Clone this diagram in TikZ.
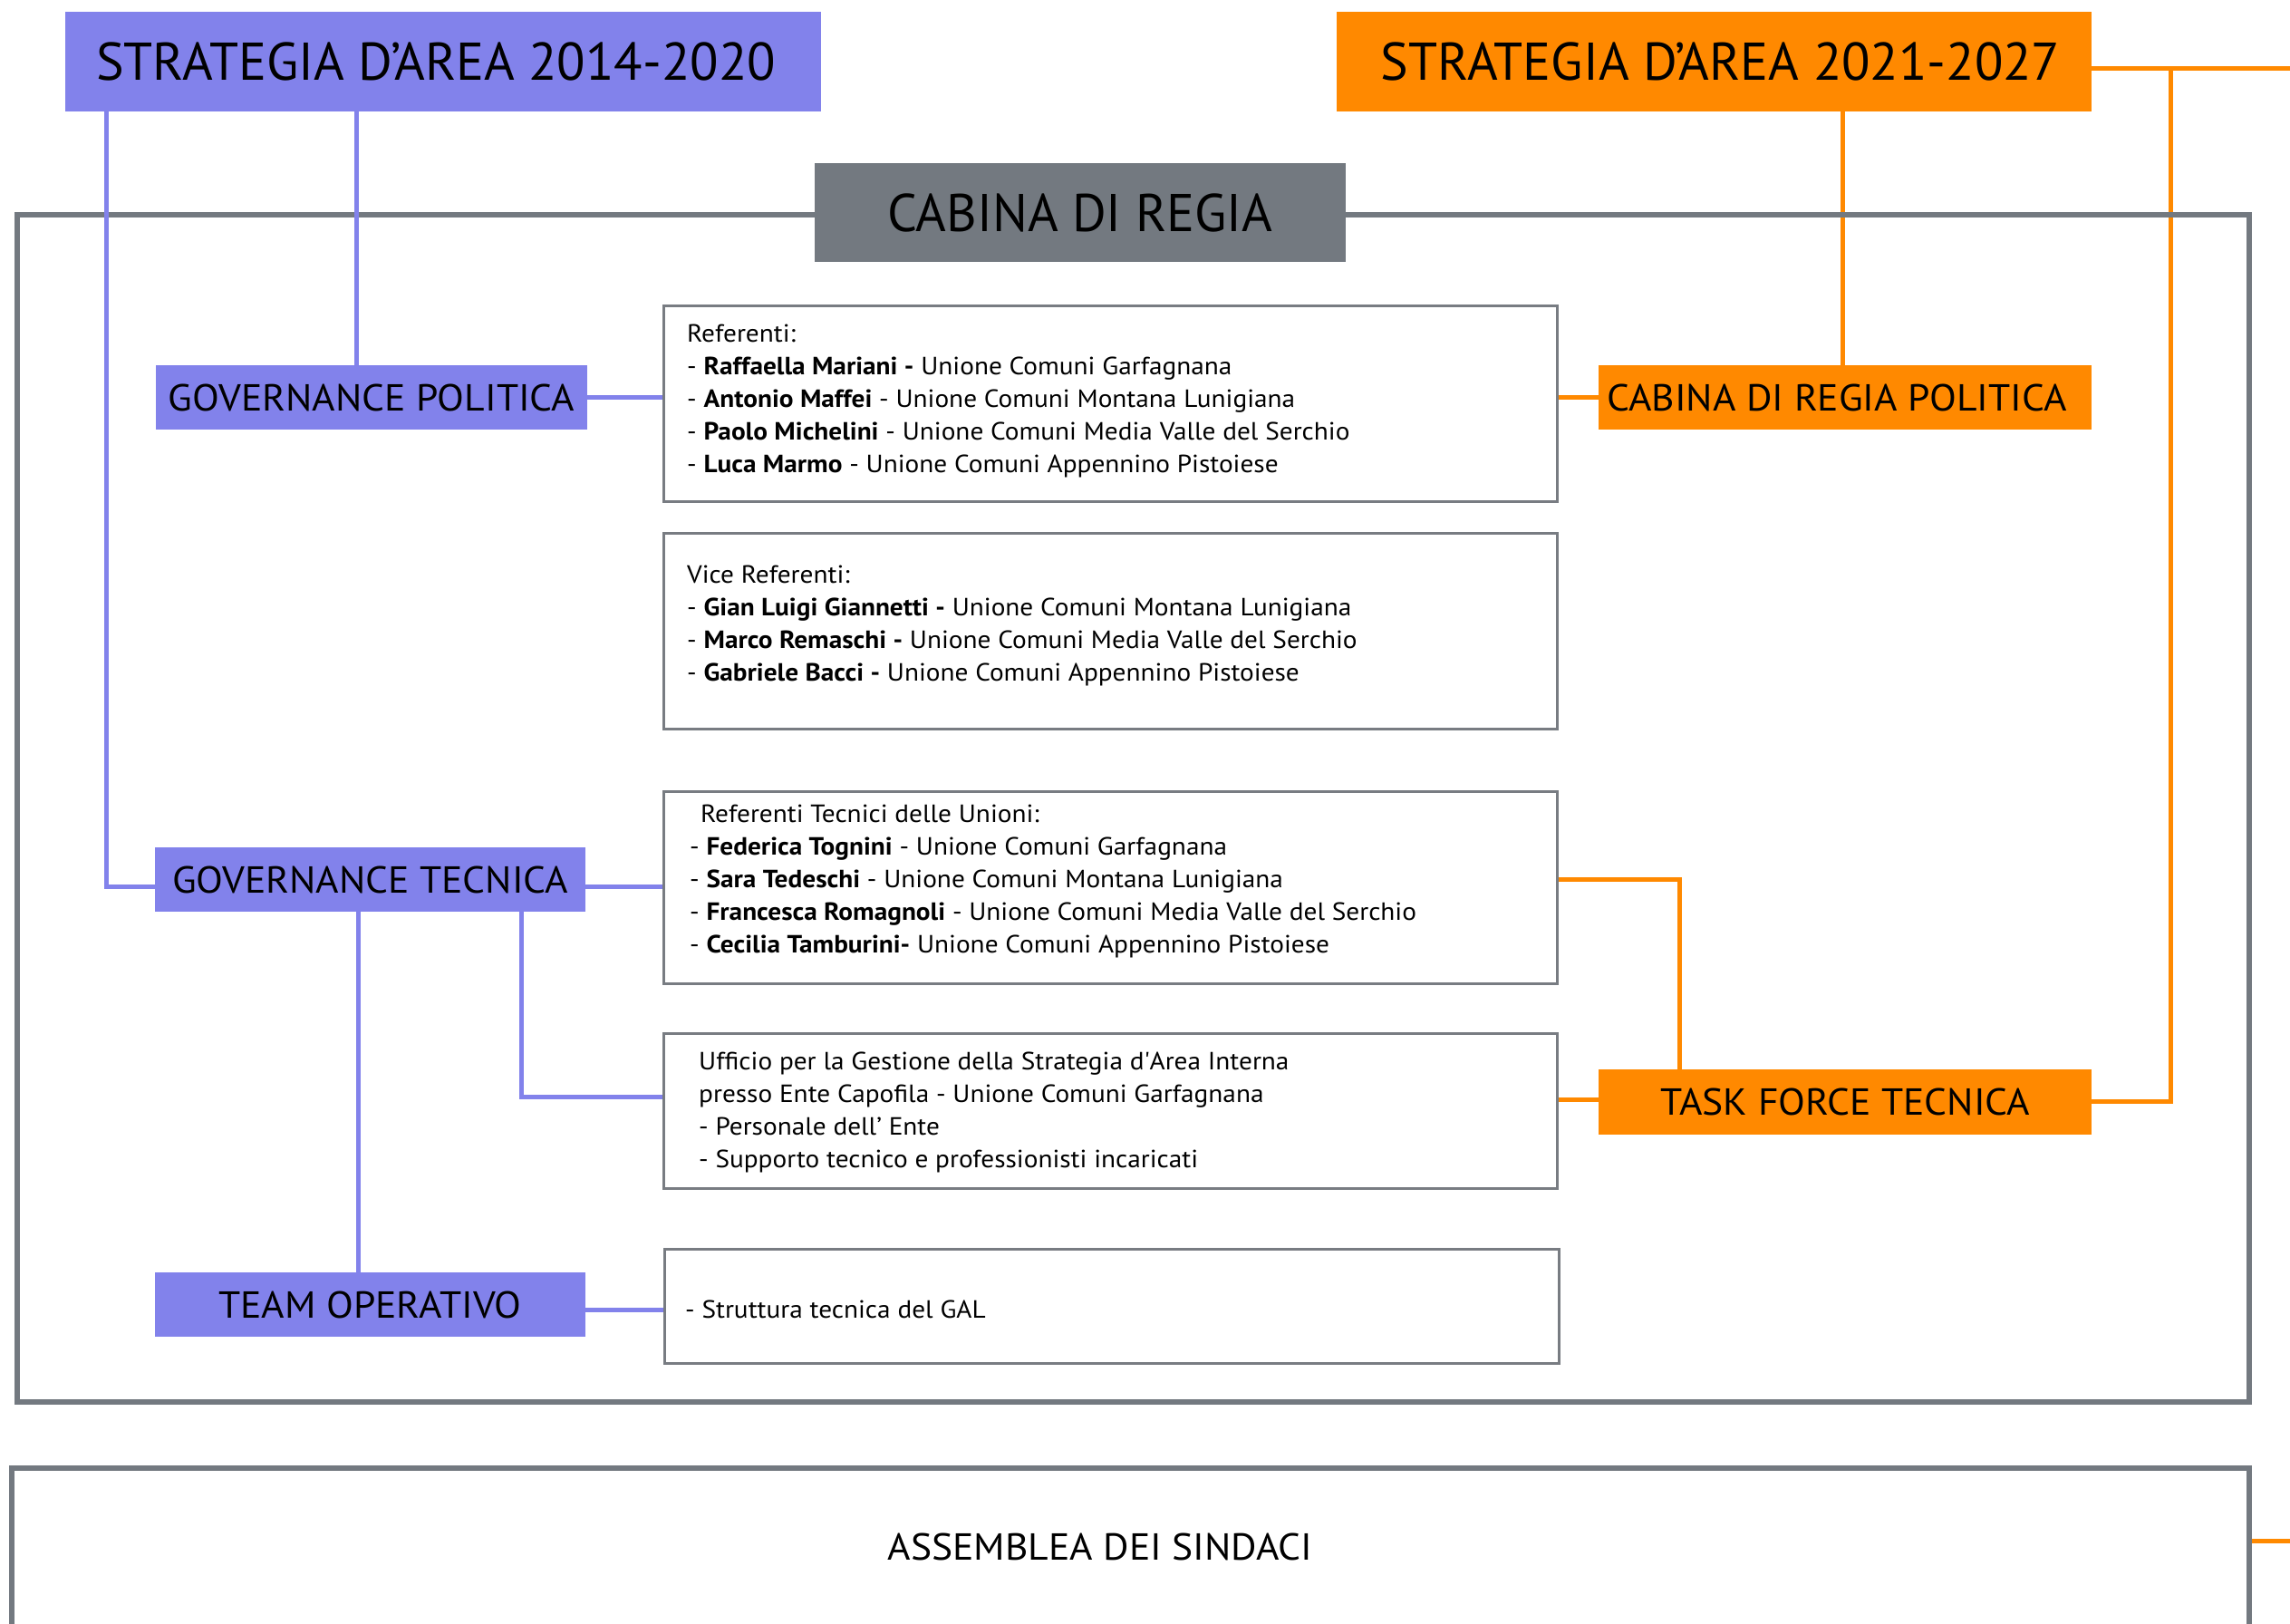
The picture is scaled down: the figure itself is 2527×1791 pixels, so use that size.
\documentclass[tikz,border=0pt]{standalone}
\usepackage{fontspec}
\setmainfont{PT Sans}
\newfontfamily\ttlfont[FakeStretch=0.985]{PT Sans}
\newfontfamily\lblfont[FakeStretch=1.05]{PT Sans}
\newfontfamily\bodyfont[FakeStretch=1.065]{PT Sans}
\definecolor{blueC}{RGB}{130,130,235}
\definecolor{orC}{RGB}{255,137,0}
\definecolor{grayC}{RGB}{115,121,128}
\definecolor{boxG}{RGB}{120,124,130}
\begin{document}
\begin{tikzpicture}[x=1pt,y=-1pt,
  lbl/.style={inner sep=0, font=\lblfont\fontsize{41.5}{50}\selectfont},
  ttl/.style={inner sep=0, font=\ttlfont\fontsize{58.6}{70}\selectfont},
  bluebox/.style={lbl, fill=blueC},
  orbox/.style={lbl, fill=orC},
  content/.style={draw=boxG, line width=3, fill=white, inner sep=0},
  txt/.style={anchor=north west, inner sep=0, align=left, font=\bodyfont\fontsize{27.5}{36}\selectfont},
  bl/.style={draw=blueC, line width=5},
  ol/.style={draw=orC, line width=5},
  frm/.style={draw=grayC, line width=5.5, inner sep=0}]
\useasboundingbox (0,0) rectangle (2527,1791);
\fill[white] (0,0) rectangle (2527,1791);

% named coordinates for connector bends
\coordinate (xgp) at (393,0);
\coordinate (b1) at (117,978);
\coordinate (xto) at (395,0);
\coordinate (b2) at (575,1210);
\coordinate (b3) at (690,1445);
\coordinate (o1) at (2033,0);
\coordinate (o2) at (1853,970.7);
\coordinate (o3) at (1740,1213);
\coordinate (o4) at (2395,75);
\coordinate (o5) at (2527,75);
\coordinate (o6) at (2395,1215);
\coordinate (o8) at (2527,1700);

% top boxes
\node[ttl, fill=blueC, minimum width=834, minimum height=110] (s14) at (489,67.75) {STRATEGIA D’AREA 2014-2020\rule{16pt}{0pt}};
\node[ttl, fill=orC, minimum width=833, minimum height=110] (s21) at (1891.5,67.75) {\hspace{14pt}STRATEGIA D’AREA 2021-2027};

% left labels
\node[bluebox, minimum width=476, minimum height=71] (gp) at (410,438.5) {GOVERNANCE POLITICA};
\node[bluebox, minimum width=475, minimum height=71] (gt) at (408.5,970.5) {GOVERNANCE TECNICA};
\node[bluebox, minimum width=475, minimum height=71] (to) at (408.5,1439.5) {TEAM OPERATIVO};

% right labels
\node[orbox, minimum width=544, minimum height=71] (cdrp) at (2036,438.5) {CABINA DI REGIA POLITICA\rule{18pt}{0pt}};
\node[orbox, minimum width=544, minimum height=72] (tft) at (2036,1216) {TASK FORCE TECNICA};

% content boxes
\node[content, minimum width=986, minimum height=216] (ref) at (1225,445) {};
\node[content, minimum width=986, minimum height=216] (vice) at (1225,696) {};
\node[content, minimum width=986, minimum height=212] (rt) at (1225,979) {};
\node[content, minimum width=986, minimum height=171] (uff) at (1225,1225.5) {};
\node[content, minimum width=987, minimum height=126] (gal) at (1226.5,1441) {};

% orange connectors
\draw[ol] (s21.south -| o1) -- (cdrp.north -| o1);
\draw[ol] (ref.east |- cdrp.west) -- (cdrp.west);
\draw[ol] (rt.east |- o2) -- (o2) -- (tft.north -| o2);
\draw[ol] (uff.east |- o3) -- (tft.west |- o3);
\draw[ol] (s21.east |- o4) -- (o5);
\draw[ol] (o4) -- (o6) -- (tft.east |- o6);

% frames
\node[frm, minimum width=2463, minimum height=1310] (frame) at (1250.5,892) {};
\node[frm, minimum width=2469, minimum height=200] (asm) at (1247.5,1720) {};
\node[lbl] (asmt) at (1214,1707) {ASSEMBLEA DEI SINDACI};
\draw[ol] (asm.east |- o8) -- (o8);

\node[ttl, fill=grayC, minimum width=586, minimum height=109] (cdr) at (1192,234.5) {CABINA DI REGIA};

% blue connectors
\draw[bl] (s14.south -| xgp) -- (gp.north -| xgp);
\draw[bl] (s14.south -| b1) -- (b1) -- (gt.west |- b1);
\draw[bl] (gp.east) -- (ref.west |- gp.east);
\draw[bl] (gt.east |- b1) -- (rt.west |- b1);
\draw[bl] (gt.south -| xto) -- (to.north -| xto);
\draw[bl] (gt.south -| b2) -- (b2) -- (uff.west |- b2);
\draw[bl] (to.east |- b3) -- (gal.west |- b3);

% texts
\node[txt] (reft) at (758,351.8) {\strut Referenti:\\
\strut - \textbf{Raffaella Mariani -} Unione Comuni Garfagnana\\
\strut - \textbf{Antonio Maffei} - Unione Comuni Montana Lunigiana\\
\strut - \textbf{Paolo Michelini} - Unione Comuni Media Valle del Serchio\\
\strut - \textbf{Luca Marmo} - Unione Comuni Appennino Pistoiese};
\node[txt] (vicet) at (758,617.8) {\strut Vice Referenti:\\
\strut - \textbf{Gian Luigi Giannetti -} Unione Comuni Montana Lunigiana\\
\strut - \textbf{Marco Remaschi -} Unione Comuni Media Valle del Serchio\\
\strut - \textbf{Gabriele Bacci -} Unione Comuni Appennino Pistoiese};
\node[txt] (rtt) at (761,881.8) {\strut\hspace{12pt}Referenti Tecnici delle Unioni:\\
\strut - \textbf{Federica Tognini} - Unione Comuni Garfagnana\\
\strut - \textbf{Sara Tedeschi} - Unione Comuni Montana Lunigiana\\
\strut - \textbf{Francesca Romagnoli} - Unione Comuni Media Valle del Serchio\\
\strut - \textbf{Cecilia Tamburini-} Unione Comuni Appennino Pistoiese};
\node[txt] (uft) at (771,1154.8) {\strut Ufficio per la Gestione della Strategia d\textquotesingle Area Interna\\
\strut presso Ente Capofila - Unione Comuni Garfagnana\\
\strut - Personale dell’ Ente\\
\strut - Supporto tecnico e professionisti incaricati};
\node[txt] (galt) at (756,1428.8) {\strut - Struttura tecnica del GAL};
\end{tikzpicture}
\end{document}
